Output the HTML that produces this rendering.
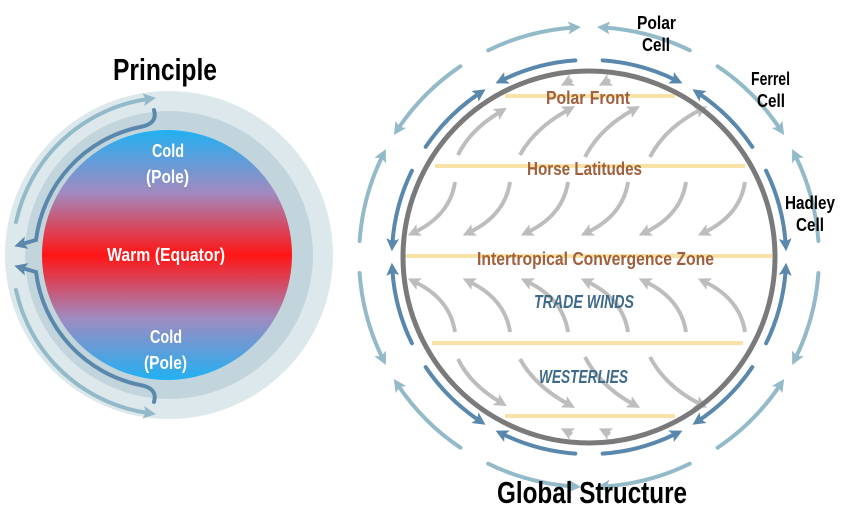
<!DOCTYPE html>
<html><head><meta charset="utf-8"><style>
html,body{margin:0;padding:0;background:#fff;}
svg{display:block;}
text{font-family:"Liberation Sans Narrow","Liberation Sans",sans-serif;font-weight:bold;}
</style></head><body>
<svg width="850" height="532" viewBox="0 0 850 532" xmlns="http://www.w3.org/2000/svg">
<defs>
<linearGradient id="g" x1="0" y1="0" x2="0" y2="1">
<stop offset="0" stop-color="#22b0f2"/><stop offset="0.25" stop-color="#a08ac0"/>
<stop offset="0.5" stop-color="#ff1515"/><stop offset="0.75" stop-color="#a08ac0"/>
<stop offset="1" stop-color="#22b0f2"/></linearGradient>
<marker id="md" markerWidth="3.2" markerHeight="3.2" refX="1.2" refY="1.6" orient="auto" markerUnits="strokeWidth"><path d="M0,0 L3.2,1.6 L0,3.2 L0.7,1.6z" fill="#5a88ad"/></marker>
<marker id="ml" markerWidth="3.2" markerHeight="3.2" refX="1.2" refY="1.6" orient="auto" markerUnits="strokeWidth"><path d="M0,0 L3.2,1.6 L0,3.2 L0.7,1.6z" fill="#93bac8"/></marker>
<marker id="mg" markerWidth="3.2" markerHeight="3.2" refX="1.2" refY="1.6" orient="auto" markerUnits="strokeWidth"><path d="M0,0 L3.2,1.6 L0,3.2 L0.7,1.6z" fill="#bdbdbd"/></marker>
<g id="quad" fill="none" stroke-width="4" stroke-linecap="round">
<path d="M177.1,-86.3 A196 196 0 0 1 196.6,-13.7" stroke="#5a88ad" marker-end="url(#md)"/>
<path d="M229.4,-16 A230 230 0 0 0 206.7,-100.8" stroke="#93bac8" marker-end="url(#ml)"/>
<path d="M163.3,-110.1 A196 196 0 0 0 110.1,-163.3" stroke="#5a88ad" marker-end="url(#md)"/>
<path d="M128.6,-190.7 A230 230 0 0 1 190.7,-128.6" stroke="#93bac8" marker-end="url(#ml)"/>
<path d="M13.7,-196.6 A196 196 0 0 1 86.3,-177.1" stroke="#5a88ad" marker-end="url(#md)"/>
<path d="M100.8,-206.7 A230 230 0 0 0 16,-229.4" stroke="#93bac8" marker-end="url(#ml)"/>
</g>
<g id="grayN" fill="none" stroke="#bdbdbd" stroke-width="4" marker-end="url(#mg)">
<path d="M458,155 Q470,130 500,112"/><path d="M520,155 Q535,128 568,110"/>
<path d="M585,157 Q600,128 633,110"/><path d="M650,157 Q665,128 700,110"/>
<path d="M455,182 Q450,215 415,232"/><path d="M510,182 Q505,215 470,232"/>
<path d="M568,182 Q563,215 528,232"/><path d="M628,182 Q623,215 588,232"/>
<path d="M686,182 Q681,215 646,232"/><path d="M745,182 Q740,215 705,232"/>
<path d="M572,80 L568,82"/><path d="M610,80 L606,82"/>
</g>
</defs>
<!-- Principle -->
<circle cx="169" cy="255" r="164" fill="#dde8ec"/>
<circle cx="169" cy="255" r="144" fill="#c3d5dc"/>
<circle cx="167" cy="255" r="125" fill="url(#g)"/>
<g id="lft" fill="none" stroke-width="4" stroke-linecap="round">
<path d="M16,222 A158 158 0 0 1 148,99" stroke="#93bac8" marker-end="url(#ml)"/>
<path d="M154,110 Q158,124 140,127 A132 132 0 0 0 36,240 L22,244" stroke="#5a88ad" marker-end="url(#md)"/>
</g>
<use href="#lft" transform="translate(0,512) scale(1,-1)"/>
<text x="113" y="80" font-size="31" textLength="104" lengthAdjust="spacingAndGlyphs" fill="#000">Principle</text>
<g fill="#fff" font-size="18">
<text x="152" y="157" textLength="32" lengthAdjust="spacingAndGlyphs">Cold</text>
<text x="146" y="183" textLength="43" lengthAdjust="spacingAndGlyphs">(Pole)</text>
<text x="107" y="261" textLength="118" lengthAdjust="spacingAndGlyphs">Warm (Equator)</text>
<text x="150" y="343" textLength="32" lengthAdjust="spacingAndGlyphs">Cold</text>
<text x="144" y="369" textLength="43" lengthAdjust="spacingAndGlyphs">(Pole)</text>
</g>
<!-- Global -->
<g stroke="#f8e2a6" stroke-width="4">
<line x1="505" y1="96" x2="675" y2="96"/><line x1="435" y1="166" x2="745" y2="166"/>
<line x1="405" y1="256" x2="772" y2="256"/><line x1="432" y1="343" x2="743" y2="343"/>
<line x1="505" y1="416" x2="675" y2="416"/>
</g>
<use href="#grayN"/>
<use href="#grayN" transform="translate(0,514) scale(1,-1)"/>
<circle cx="589" cy="257" r="186" fill="none" stroke="#7a7a7a" stroke-width="5"/>
<use href="#quad" transform="translate(589,257)"/>
<use href="#quad" transform="translate(589,257) scale(-1,1)"/>
<use href="#quad" transform="translate(589,257) scale(1,-1)"/>
<use href="#quad" transform="translate(589,257) scale(-1,-1)"/>
<g fill="#a0603e" font-size="18">
<text x="546" y="104" textLength="84" lengthAdjust="spacingAndGlyphs">Polar Front</text>
<text x="527" y="175" textLength="115" lengthAdjust="spacingAndGlyphs">Horse Latitudes</text>
<text x="477" y="265" textLength="237" lengthAdjust="spacingAndGlyphs">Intertropical Convergence Zone</text>
</g>
<g fill="#3f6a8a" font-size="18" font-style="italic">
<text x="534" y="308" textLength="100" lengthAdjust="spacingAndGlyphs">TRADE WINDS</text>
<text x="539" y="383" textLength="89" lengthAdjust="spacingAndGlyphs">WESTERLIES</text>
</g>
<g fill="#000" font-size="18">
<text x="637" y="29" textLength="39" lengthAdjust="spacingAndGlyphs">Polar</text>
<text x="642" y="51" textLength="28" lengthAdjust="spacingAndGlyphs">Cell</text>
<text x="751" y="85" textLength="39" lengthAdjust="spacingAndGlyphs">Ferrel</text>
<text x="757" y="107" textLength="28" lengthAdjust="spacingAndGlyphs">Cell</text>
<text x="785" y="209" textLength="50" lengthAdjust="spacingAndGlyphs">Hadley</text>
<text x="796" y="231" textLength="28" lengthAdjust="spacingAndGlyphs">Cell</text>
</g>
<text x="497" y="503" font-size="31" textLength="190" lengthAdjust="spacingAndGlyphs" fill="#000">Global Structure</text>
</svg>
</body></html>
